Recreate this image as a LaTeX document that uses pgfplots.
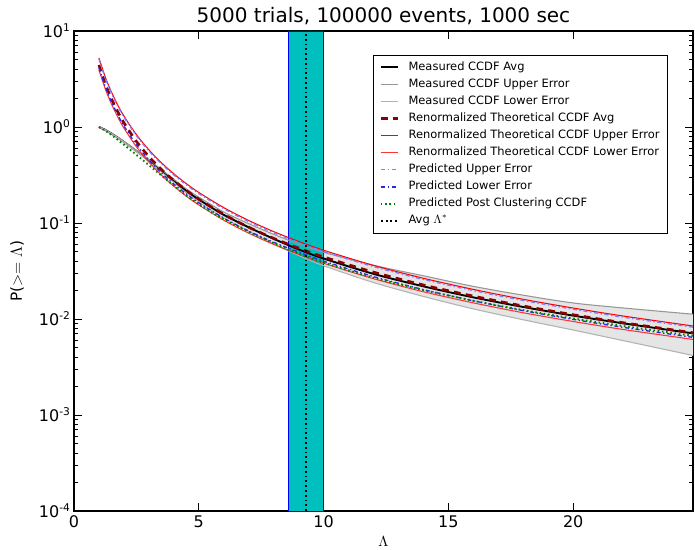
\documentclass[border=0pt]{standalone}
\usepackage{fontspec}
\setmainfont{DejaVu Sans}
\usepackage{pgfplots}
\pgfplotsset{compat=1.18}
\usepackage{pgfplotstable}
\usepgfplotslibrary{fillbetween}
\usetikzlibrary{calc}

\definecolor{cband}{RGB}{0,191,191}
\definecolor{grayU}{RGB}{150,150,150}
\definecolor{grayL}{RGB}{178,178,178}
\definecolor{grayfill}{RGB}{229,229,229}
\definecolor{dred}{RGB}{139,0,0}
\definecolor{lblue}{RGB}{125,125,255}
\definecolor{mblue}{RGB}{40,40,235}
\definecolor{mgreen}{RGB}{0,128,0}

\pgfplotstableread{
x B GU GL T RU RL BU BL G
1 1.000 1.000 1.000 4.426 5.236 3.926 5.093 4.130 1.000
1.25 0.9333 0.9376 0.9290 2.831 3.327 2.506 3.236 2.636 0.9162
1.5 0.855 0.8610 0.8492 1.968 2.312 1.738 2.249 1.828 0.8260
1.75 0.7762 0.7834 0.7691 1.445 1.698 1.276 1.652 1.343 0.7379
2 0.6998 0.7079 0.6918 1.107 1.300 0.9750 1.265 1.026 0.6531
2.5 0.5623 0.5715 0.5534 0.7079 0.8318 0.6223 0.8091 0.6546 0.5129
3 0.4467 0.4571 0.4365 0.4920 0.5781 0.4315 0.5623 0.4539 0.3999
3.5 0.3507 0.3606 0.3404 0.3614 0.4246 0.3162 0.4130 0.3327 0.3126
4 0.2754 0.2851 0.2649 0.2767 0.3251 0.2415 0.3162 0.2541 0.2455
4.5 0.2163 0.2265 0.2056 0.2188 0.2570 0.1905 0.2500 0.2004 0.1928
5 0.1758 0.1862 0.1652 0.1770 0.2080 0.1542 0.2023 0.1622 0.1567
6 0.1216 0.1303 0.1127 0.1230 0.1445 0.1069 0.1406 0.1125 0.1089
7 0.09016 0.09840 0.08185 0.09036 0.1062 0.07834 0.1033 0.08241 0.08110
8 0.06839 0.07621 0.06053 0.06918 0.08128 0.05984 0.07907 0.06295 0.06166
9 0.05309 0.06039 0.04592 0.05470 0.06427 0.04721 0.06252 0.04966 0.04797
10 0.04266 0.04955 0.03589 0.04426 0.05200 0.03811 0.05058 0.04009 0.03864
12 0.02951 0.03631 0.02399 0.03076 0.03614 0.02630 0.03516 0.02767 0.02692
14 0.02188 0.02818 0.01718 0.02259 0.02655 0.01923 0.02582 0.02023 0.02004
16 0.01679 0.02188 0.01274 0.01730 0.02032 0.01472 0.01977 0.01549 0.01549
18 0.01334 0.01770 0.009817 0.01365 0.01603 0.01161 0.01560 0.01222 0.01236
20 0.01084 0.01469 0.007674 0.01107 0.01300 0.009419 0.01265 0.009908 0.01012
22 0.009016 0.01303 0.005957 0.009141 0.01074 0.007780 0.01045 0.008185 0.008453
24.8 0.007079 0.01122 0.004169 0.007194 0.008453 0.006124 0.008222 0.006442 0.006683
}\data

\begin{document}
\begin{tikzpicture}
\begin{axis}[
  name=ax,
  scale only axis,
  width=464.25pt, height=360pt,
  xmin=0, xmax=24.8,
  ymode=log, ymin=1e-4, ymax=10,
  xtick={0,5,10,15,20},
  ytick={1e-4,1e-3,1e-2,1e-1,1,10},
  yticklabels={10\textsuperscript{-4},10\textsuperscript{-3},10\textsuperscript{-2},10\textsuperscript{-1},10\textsuperscript{0},10\textsuperscript{1}},
  /pgf/number format/assume math mode=true,
  tick align=inside,
  major tick length=6pt, minor tick length=3pt,
  tick style={black, line width=0.6pt},
  axis line style={line width=0.8pt},
  ticklabel style={font=\fontsize{12}{14}\selectfont},
  yticklabel style={xshift=1pt},
  title={5000 trials, 100000 events, 1000 sec},
  title style={font=\fontsize{15}{18}\selectfont, at={(axis description cs:0.5,1)}, anchor=base, yshift=0pt},
  xlabel={$\Lambda$},
  xlabel style={font=\fontsize{11}{13}\selectfont, at={(axis description cs:0.5,-0.052)}, anchor=north, inner sep=0pt},
  ylabel={P($>=\Lambda$)},
  ylabel style={font=\fontsize{11.5}{13}\selectfont, at={(axis description cs:-0.0921,0.5)}, anchor=center},
  legend cell align=left,
  legend image code/.code={\draw[#1] (0pt,0pt) -- (12.5pt,0pt);},
  legend style={at={(0.96,0.95)}, anchor=north east, font=\fontsize{8.6}{10}\selectfont,
    draw=black, line width=0.6pt, fill=white, inner xsep=4.5pt, inner ysep=3pt,
    column sep=5.5pt, row sep=0.8pt,
    nodes={inner sep=1.75pt, text height=6.5pt, text depth=2pt}},
]
% vertical band
\addplot[draw=blue, line width=0.5pt, fill=cband, forget plot] coordinates {(8.6,1e-4) (8.6,10) (9.98,10) (9.98,1e-4) (8.6,1e-4)};
% grey band
\addplot[draw=none, name path=gu, smooth, forget plot] table[x=x,y=GU]{\data};
\addplot[draw=none, name path=gl, smooth, forget plot] table[x=x,y=GL]{\data};
\addplot[grayfill, forget plot] fill between[of=gu and gl];
% curves
\addplot[black, line width=1.4pt, smooth] table[x=x,y=B]{\data};
\addlegendentry{Measured CCDF Avg}
\addplot[grayU, line width=0.8pt, smooth] table[x=x,y=GU]{\data};
\addlegendentry{Measured CCDF Upper Error}
\addplot[grayL, line width=0.8pt, smooth] table[x=x,y=GL]{\data};
\addlegendentry{Measured CCDF Lower Error}
\addplot[dred, line width=2pt, dash pattern=on 5pt off 4pt, smooth] table[x=x,y=T]{\data};
\addlegendentry{Renormalized Theoretical CCDF Avg}
\addplot[red, line width=0.8pt, smooth] table[x=x,y=RU]{\data};
\addlegendentry{Renormalized Theoretical CCDF Upper Error}
\addplot[red!80!white, line width=0.8pt, smooth] table[x=x,y=RL]{\data};
\addlegendentry{Renormalized Theoretical CCDF Lower Error}
\addplot[lblue, line width=1pt, dash pattern=on 3pt off 2pt on 1pt off 2pt, smooth] table[x=x,y=BU]{\data};
\addlegendentry{Predicted Upper Error}
\addplot[mblue, line width=1pt, dash pattern=on 3pt off 2pt on 1pt off 2pt, smooth] table[x=x,y=BL]{\data};
\addlegendentry{Predicted Lower Error}
\addplot[mgreen, line width=1.4pt, dash pattern=on 1.2pt off 2pt, smooth] table[x=x,y=G]{\data};
\addlegendentry{Predicted Post Clustering CCDF}
\addplot[black, line width=1.4pt, dash pattern=on 1.4pt off 2.2pt] coordinates {(9.29,1e-4) (9.29,10)};
\addlegendentry{Avg $\Lambda^{*}$}
\end{axis}
\pgfresetboundingbox
\path[use as bounding box] ($(ax.south west)+(-55.5pt,-28.5pt)$) rectangle ($(ax.north east)+(1.5pt,23.25pt)$);
\end{tikzpicture}
\end{document}
